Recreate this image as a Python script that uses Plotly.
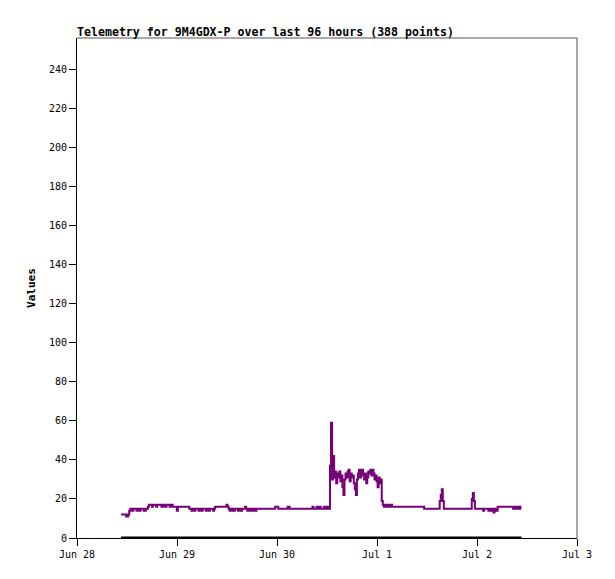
import plotly.graph_objects as go
import pandas as pd

title_text = "Telemetry for 9M4GDX-P over last 96 hours (388 points)"
y_title = "Values"
start_time = "2025-06-28 10:33"
end_time = "2025-07-02 10:40"

values = [
    12, 12, 12, 12, 12, 11, 11, 12,
    14, 15, 15, 14, 15, 15, 15, 14, 15, 15, 14, 15, 15, 15, 14, 14, 15, 15,
    16, 17, 17, 17, 16, 17, 17, 17, 16, 17, 17, 17, 17, 16, 17, 17, 16, 16, 17, 17, 17, 16, 17, 17, 16, 16, 16, 16,
    14,
    16, 16, 16, 16, 16, 16, 16, 16, 16, 16, 16,
    15, 15, 14, 15, 15, 14, 15, 15, 15, 14, 15, 15, 14, 15, 15, 15, 14, 15, 15, 14, 15, 15, 15, 14, 15,
    16, 16, 16, 16, 16, 16, 16, 16, 16, 16, 16,
    17, 16, 15, 14, 15, 15, 14, 14, 15, 15, 15, 14, 15, 15, 14, 15, 15, 15, 16, 15, 14, 15, 15, 14, 15, 14, 15, 15, 14, 15, 15, 15, 15, 15,
    15, 15, 15, 15, 15, 15, 15, 15, 15, 15, 15, 15, 15, 16, 16, 16, 15, 15, 15, 15, 15, 15, 15, 15, 15, 16, 16, 15, 15, 15, 15, 15, 15,
    15, 15, 15, 15, 15, 15, 15, 15, 15, 15, 15, 15, 15, 15, 15, 15, 16, 15, 15, 15, 16, 15, 15, 16, 15, 15, 15, 16, 15, 15, 16, 15, 15,
    37, 59, 30, 42, 31, 34, 28, 33, 31, 34, 29, 32, 26, 22, 30, 33, 31, 34, 35, 29, 33, 31, 32, 28, 25, 22,
    30, 33, 35, 31, 34, 35, 32, 30, 33, 28, 31, 34, 33, 35, 32, 35, 33, 30, 32, 29, 26, 31, 28, 30, 19, 17,
    16, 17, 16, 16, 17, 16, 17, 17, 16, 16,
    16, 16, 16, 16, 16, 16, 16, 16, 16, 16, 16, 16, 16, 16, 16, 16, 16, 16, 16, 16, 16, 16, 16, 16, 16, 16, 16, 16, 16,
    15, 15, 15, 15, 15, 15, 15, 15, 15, 15, 15, 15, 15, 15, 15,
    19, 22, 25, 19,
    15, 15, 15, 15, 15, 15, 15, 15, 15, 15, 15, 15, 15, 15, 15, 15, 15, 15, 15, 15, 15, 15, 15, 15, 15, 15, 15,
    20, 23, 19,
    15, 15, 15, 15, 15, 15, 15, 15,
    14, 15, 15, 15, 15, 14, 15, 14, 15, 15, 13, 14, 15, 14,
    16, 16, 16, 16, 16, 16, 16, 16, 16, 16, 16, 16, 16, 16, 16,
    15, 16, 15, 15, 16, 15, 16, 15, 15,
]
zero_values = [0] * len(values)

times = pd.date_range(start_time, end_time, periods=len(values))

x_ticks = ["2025-06-28", "2025-06-29", "2025-06-30", "2025-07-01", "2025-07-02", "2025-07-03"]
x_tick_labels = ["Jun 28", "Jun 29", "Jun 30", "Jul 1", "Jul 2", "Jul 3"]
y_ticks = list(range(0, 241, 20))

fig = go.Figure()
fig.add_trace(go.Scatter(x=times, y=zero_values, mode="lines",
                         line=dict(color="#000000", width=3), hoverinfo="skip"))
fig.add_trace(go.Scatter(x=times, y=values, mode="lines",
                         line=dict(color="#760076", width=2, shape="hv")))

font_mono = "DejaVu Sans Mono"
fig.update_layout(
    width=615, height=579,
    margin=dict(l=69, r=46, t=30, b=49),
    paper_bgcolor="white", plot_bgcolor="white",
    showlegend=False,
    title=dict(text="<b>" + title_text + "</b>", x=0, xref="paper", xanchor="left",
               y=1, yref="paper", yanchor="bottom", pad=dict(b=2, l=0),
               font=dict(family=font_mono, size=11.6, color="black")),
    font=dict(family=font_mono, size=10, color="black"),
)
fig.update_xaxes(
    range=["2025-06-28", "2025-07-03"],
    tickvals=x_ticks, ticktext=x_tick_labels,
    showgrid=False, zeroline=False,
    showline=True, linecolor="black", linewidth=1,
    ticks="outside", ticklen=7, tickcolor="black", tickwidth=1,
    tickfont=dict(family=font_mono, size=10, color="black"),
)
fig.update_yaxes(
    range=[0, 256],
    tickvals=y_ticks,
    showgrid=False, zeroline=False,
    showline=True, linecolor="black", linewidth=1,
    ticks="outside", ticklen=7, tickcolor="black", tickwidth=1,
    tickfont=dict(family=font_mono, size=10, color="black"),
    title=dict(text="<b>" + y_title + "</b>", standoff=11,
               font=dict(family=font_mono, size=11, color="black")),
)
fig.add_shape(type="line", xref="paper", yref="paper", x0=0, x1=1, y0=1, y1=1,
              line=dict(color="#555555", width=1))
fig.add_shape(type="line", xref="paper", yref="paper", x0=1, x1=1, y0=0, y1=1,
              line=dict(color="#555555", width=1))

fig.write_html("out.html")
